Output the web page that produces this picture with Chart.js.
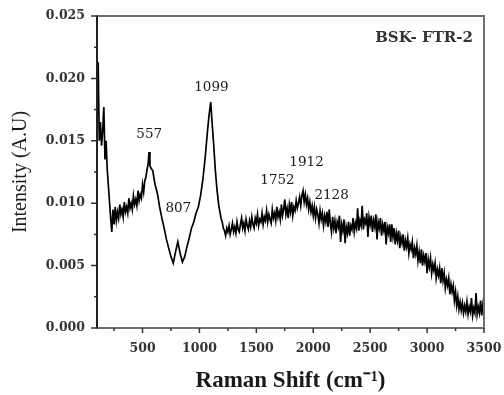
<!DOCTYPE html>
<html lang="en">
<head>
  <meta charset="UTF-8" />
  <title>BSK- FTR-2 Raman spectrum</title>
  <script src="https://cdn.jsdelivr.net/npm/chart.js"></script>
  <style>
    html, body { margin: 0; padding: 0; background: #fff; }
    canvas { display: block; }
  </style>
</head>
<body>
  <canvas id="ramanChart" width="504" height="395"></canvas>

  <script>
    // Raman shift (cm-1) and intensity (A.U), ten points per row
    const ramanShift = [
      100, 110, 120, 130, 140, 150, 160, 170, 180, 190,
      200, 210, 220, 230, 240, 250, 260, 270, 280, 290,
      300, 310, 320, 330, 340, 350, 360, 370, 380, 390,
      400, 410, 420, 430, 440, 450, 460, 470, 480, 490,
      500, 510, 520, 530, 540, 550, 557, 565, 575, 590,
      610, 630, 650, 670, 690, 710, 730, 750, 770, 790,
      810, 830, 850, 870, 890, 910, 930, 950, 970, 990,
      1010, 1030, 1050, 1070, 1085, 1099, 1110, 1125, 1140, 1155,
      1170, 1190, 1200, 1210, 1220, 1230, 1240, 1250, 1260, 1270,
      1280, 1290, 1300, 1310, 1320, 1330, 1340, 1350, 1360, 1370,
      1380, 1390, 1400, 1410, 1420, 1430, 1440, 1450, 1460, 1470,
      1480, 1490, 1500, 1510, 1520, 1530, 1540, 1550, 1560, 1570,
      1580, 1590, 1600, 1610, 1620, 1630, 1640, 1650, 1660, 1670,
      1680, 1690, 1700, 1710, 1720, 1730, 1740, 1750, 1760, 1770,
      1780, 1790, 1800, 1810, 1820, 1830, 1840, 1850, 1860, 1870,
      1880, 1890, 1900, 1910, 1920, 1930, 1940, 1950, 1960, 1970,
      1980, 1990, 2000, 2010, 2020, 2030, 2040, 2050, 2060, 2070,
      2080, 2090, 2100, 2110, 2120, 2130, 2140, 2150, 2160, 2170,
      2180, 2190, 2200, 2210, 2220, 2230, 2240, 2250, 2260, 2270,
      2280, 2290, 2300, 2310, 2320, 2330, 2340, 2350, 2360, 2370,
      2380, 2390, 2400, 2410, 2420, 2430, 2440, 2450, 2460, 2470,
      2480, 2490, 2500, 2510, 2520, 2530, 2540, 2550, 2560, 2570,
      2580, 2590, 2600, 2610, 2620, 2630, 2640, 2650, 2660, 2670,
      2680, 2690, 2700, 2710, 2720, 2730, 2740, 2750, 2760, 2770,
      2780, 2790, 2800, 2810, 2820, 2830, 2840, 2850, 2860, 2870,
      2880, 2890, 2900, 2910, 2920, 2930, 2940, 2950, 2960, 2970,
      2980, 2990, 3000, 3010, 3020, 3030, 3040, 3050, 3060, 3070,
      3080, 3090, 3100, 3110, 3120, 3130, 3140, 3150, 3160, 3170,
      3180, 3190, 3200, 3210, 3220, 3230, 3240, 3250, 3260, 3270,
      3280, 3290, 3300, 3310, 3320, 3330, 3340, 3350, 3360, 3370,
      3380, 3390, 3400, 3410, 3420, 3430, 3440, 3450, 3460, 3470,
      3480, 3490, 3500
    ];

    const intensity = [
      0.0172, 0.0213, 0.0150, 0.0165, 0.0146, 0.0158, 0.0177, 0.0135, 0.0150, 0.0127,
      0.0114, 0.0101, 0.0088, 0.0077, 0.0095, 0.0083, 0.0097, 0.0086, 0.0093, 0.0088,
      0.0099, 0.0091, 0.0095, 0.0089, 0.0101, 0.0093, 0.0097, 0.0092, 0.0104, 0.0096,
      0.0100, 0.0095, 0.0106, 0.0099, 0.0103, 0.0098, 0.0110, 0.0102, 0.0107, 0.0104,
      0.0115, 0.0109, 0.0118, 0.0121, 0.0127, 0.0132, 0.0141, 0.0130, 0.0128, 0.0126,
      0.0115, 0.0108, 0.0097, 0.0088, 0.0080, 0.0071, 0.0064, 0.0057, 0.0052, 0.0061,
      0.0069, 0.0060, 0.0053, 0.0057, 0.0065, 0.0072, 0.0080, 0.0085, 0.0092, 0.0097,
      0.0106, 0.0119, 0.0136, 0.0157, 0.0171, 0.0181, 0.0166, 0.0147, 0.0126, 0.0110,
      0.0098, 0.0088, 0.0085, 0.0080, 0.0078, 0.0074, 0.0080, 0.0077, 0.0082, 0.0075,
      0.0079, 0.0084, 0.0077, 0.0081, 0.0076, 0.0085, 0.0079, 0.0077, 0.0083, 0.0088,
      0.0080, 0.0084, 0.0078, 0.0087, 0.0082, 0.0079, 0.0086, 0.0081, 0.0089, 0.0083,
      0.0080, 0.0088, 0.0084, 0.0091, 0.0082, 0.0087, 0.0085, 0.0092, 0.0083, 0.0089,
      0.0086, 0.0094, 0.0085, 0.0091, 0.0087, 0.0084, 0.0095, 0.0088, 0.0092, 0.0086,
      0.0097, 0.0089, 0.0093, 0.0087, 0.0099, 0.0090, 0.0095, 0.0103, 0.0091, 0.0096,
      0.0088, 0.0099, 0.0093, 0.0101, 0.0090, 0.0097, 0.0094, 0.0102, 0.0096, 0.0100,
      0.0105, 0.0098, 0.0106, 0.0110, 0.0101, 0.0107, 0.0099, 0.0104, 0.0095, 0.0101,
      0.0093, 0.0098, 0.0090, 0.0097, 0.0088, 0.0095, 0.0091, 0.0084, 0.0094, 0.0087,
      0.0092, 0.0082, 0.0090, 0.0085, 0.0093, 0.0081, 0.0095, 0.0084, 0.0077, 0.0089,
      0.0080, 0.0086, 0.0076, 0.0085, 0.0081, 0.0090, 0.0069, 0.0083, 0.0078, 0.0087,
      0.0068, 0.0081, 0.0076, 0.0085, 0.0074, 0.0082, 0.0079, 0.0088, 0.0077, 0.0084,
      0.0080, 0.0096, 0.0078, 0.0086, 0.0082, 0.0098, 0.0079, 0.0087, 0.0084, 0.0092,
      0.0073, 0.0089, 0.0083, 0.0090, 0.0077, 0.0086, 0.0081, 0.0091, 0.0071, 0.0085,
      0.0080, 0.0088, 0.0074, 0.0083, 0.0078, 0.0085, 0.0067, 0.0081, 0.0076, 0.0083,
      0.0069, 0.0083, 0.0073, 0.0080, 0.0067, 0.0076, 0.0070, 0.0078, 0.0064, 0.0073,
      0.0068, 0.0075, 0.0062, 0.0070, 0.0065, 0.0072, 0.0060, 0.0067, 0.0063, 0.0069,
      0.0056, 0.0064, 0.0059, 0.0066, 0.0054, 0.0061, 0.0052, 0.0063, 0.0050, 0.0058,
      0.0053, 0.0060, 0.0044, 0.0055, 0.0049, 0.0056, 0.0044, 0.0051, 0.0046, 0.0052,
      0.0040, 0.0047, 0.0042, 0.0048, 0.0036, 0.0048, 0.0038, 0.0044, 0.0032, 0.0039,
      0.0034, 0.0040, 0.0027, 0.0035, 0.0029, 0.0034, 0.0022, 0.0029, 0.0018, 0.0025,
      0.0015, 0.0021, 0.0014, 0.0020, 0.0012, 0.0018, 0.0013, 0.0021, 0.0011, 0.0017,
      0.0013, 0.0024, 0.0010, 0.0016, 0.0012, 0.0028, 0.0011, 0.0017, 0.0012, 0.0022,
      0.0010, 0.0019, 0.0014
    ];

    const xTicks = [500, 1000, 1500, 2000, 2500, 3000, 3500];
    const xMinorTicks = [250, 750, 1250, 1750, 2250, 2750, 3250];
    const yTicks = [0, 0.005, 0.01, 0.015, 0.02, 0.025];
    const yMinorTicks = [0.0025, 0.0075, 0.0125, 0.0175, 0.0225];

    // peak labels, anchored in data units
    const peakLabels = ['557', '807', '1099', '1752', '1912', '2128'];
    const peakLabelX = [559, 814, 1105, 1686, 1941, 2161];
    const peakLabelY = [0.0155, 0.0096, 0.0193, 0.0118, 0.0133, 0.0106];

    const sampleName = 'BSK- FTR-2';

    const serif = '"DejaVu Serif", "Liberation Serif", serif';
    const times = '"Liberation Serif", serif';

    // frame, outward tick marks, peak labels and sample name
    const decorations = {
      id: 'decorations',
      afterDraw(chart) {
        const c = chart.ctx;
        const a = chart.chartArea;
        const xs = chart.scales.x;
        const ys = chart.scales.y;
        c.save();

        c.strokeStyle = '#6e6e6e';
        c.lineWidth = 2;
        c.strokeRect(a.left, a.top, a.right - a.left, a.bottom - a.top);
        c.strokeStyle = '#222';
        c.beginPath();
        c.moveTo(a.left, a.top);
        c.lineTo(a.left, a.bottom);
        c.stroke();

        c.strokeStyle = '#333';
        c.lineWidth = 1.5;
        c.beginPath();
        xTicks.forEach(v => {
          const px = xs.getPixelForValue(v);
          c.moveTo(px, a.bottom);
          c.lineTo(px, a.bottom + 5);
        });
        xMinorTicks.forEach(v => {
          const px = xs.getPixelForValue(v);
          c.moveTo(px, a.bottom);
          c.lineTo(px, a.bottom + 3);
        });
        yTicks.forEach(v => {
          const py = ys.getPixelForValue(v);
          c.moveTo(a.left, py);
          c.lineTo(a.left - 6, py);
        });
        yMinorTicks.forEach(v => {
          const py = ys.getPixelForValue(v);
          c.moveTo(a.left, py);
          c.lineTo(a.left - 3, py);
        });
        c.stroke();

        c.fillStyle = '#1a1a1a';
        c.font = '13.5px ' + serif;
        c.textAlign = 'center';
        c.textBaseline = 'middle';
        peakLabels.forEach((t, i) => {
          c.fillText(t, xs.getPixelForValue(peakLabelX[i]), ys.getPixelForValue(peakLabelY[i]));
        });

        c.fillStyle = '#333';
        c.font = 'bold 15px ' + serif;
        c.textAlign = 'right';
        c.fillText(sampleName, a.right - 11, a.top + 22);
        c.restore();
      }
    };

    const ctx = document.getElementById('ramanChart').getContext('2d');

    new Chart(ctx, {
      type: 'line',
      data: {
        datasets: [{
          data: ramanShift.map((x, i) => ({ x: x, y: intensity[i] })),
          borderColor: '#000',
          borderWidth: 1.7,
          pointRadius: 0,
          tension: 0,
          fill: false
        }]
      },
      options: {
        responsive: false,
        animation: false,
        layout: { padding: { top: 16, right: 20, left: 0, bottom: 0 } },
        plugins: {
          legend: { display: false },
          tooltip: { enabled: false }
        },
        scales: {
          x: {
            type: 'linear',
            min: 100,
            max: 3500,
            afterBuildTicks: s => { s.ticks = xTicks.map(v => ({ value: v })); },
            afterFit: s => {
              s.height = 67;
              s.paddingLeft = 0;
              s.paddingRight = 0;
            },
            grid: { display: false, drawTicks: false },
            border: { display: false },
            ticks: {
              color: '#333',
              font: { family: serif, size: 12.5, weight: 'bold' },
              padding: 13,
              maxRotation: 0,
              autoSkip: false,
              callback: v => String(v)
            },
            title: {
              display: true,
              text: 'Raman Shift (cm\u207B\u00B9)',
              color: '#1a1a1a',
              font: { family: times, size: 23, weight: 'bold' },
              padding: { top: 0, bottom: 0 }
            }
          },
          y: {
            min: 0,
            max: 0.025,
            afterBuildTicks: s => { s.ticks = yTicks.map(v => ({ value: v })); },
            afterFit: s => {
              s.width = 97;
              s.paddingTop = 0;
              s.paddingBottom = 0;
            },
            grid: { display: false, drawTicks: false },
            border: { display: false },
            ticks: {
              color: '#333',
              font: { family: serif, size: 12.5, weight: 'bold' },
              padding: 12,
              callback: v => v.toFixed(3)
            },
            title: {
              display: true,
              text: 'Intensity (A.U)',
              color: '#1a1a1a',
              font: { family: times, size: 20 },
              padding: { top: 9, bottom: 0 }
            }
          }
        }
      },
      plugins: [decorations]
    });
  </script>
</body>
</html>
